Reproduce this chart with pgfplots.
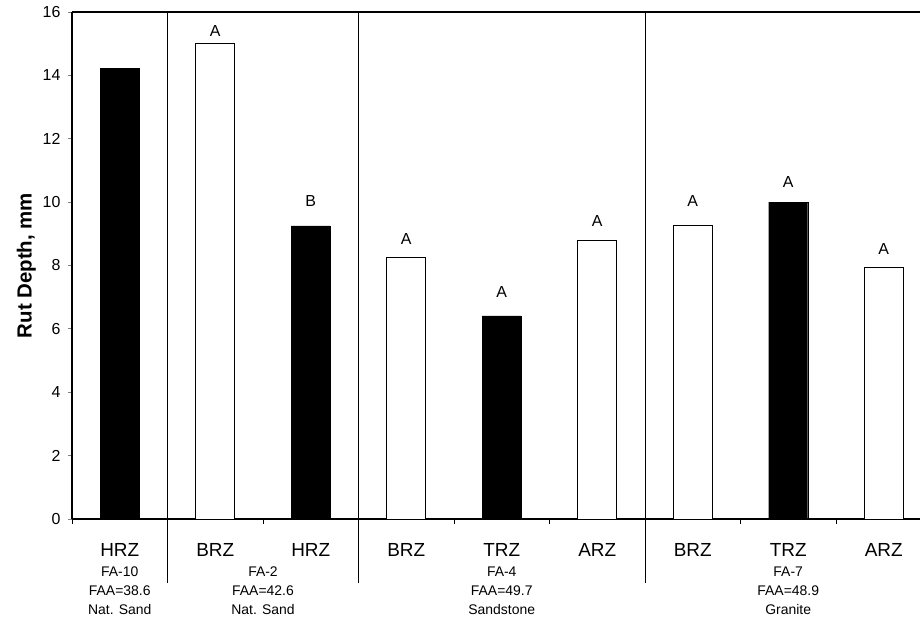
\documentclass[border=0pt]{standalone}
\usepackage{pgfplots}
\pgfplotsset{compat=1.18}
\usepackage{fontspec}
\setmainfont{Liberation Sans}
\begin{document}
\begin{tikzpicture}
\path[use as bounding box] (-72bp,-101bp) rectangle (848bp,519bp);
\begin{axis}[
  at={(0,0)}, anchor=south west,
  scale only axis, width=848bp, height=507bp,
  xmin=-0.5, xmax=8.38, ymin=0, ymax=16,
  axis lines*=left,
  axis line style={line width=1.5bp},
  clip=false,
  /pgf/number format/assume math mode=true,
  ytick={0,2,...,16},
  yticklabel style={font=\fontsize{16}{16}\selectfont, xshift=-4bp},
  tick align=outside,
  major tick length=4bp,
  xtick={0,...,8},
  xticklabels={HRZ,BRZ,HRZ,BRZ,TRZ,ARZ,BRZ,TRZ,ARZ},
  xticklabel style={font=\fontsize{19}{19}\selectfont, yshift=-17bp},
  x tick style={draw=none},
  minor xtick={-0.5,0.5,...,7.5},
  minor x tick style={draw=black, line width=0.8bp},
  minor tick length=5bp,
  y tick style={line width=0.8bp},
  ylabel={\textbf{Rut Depth, mm}},
  ylabel style={font=\fontsize{20.5}{20.5}\selectfont},
]
\addplot[ybar, bar width=39bp, bar shift=0pt, fill=black, draw=black]
  coordinates {(0,14.23) (2,9.25) (4,6.41) (7,10.0)};
\addplot[ybar, bar width=39bp, bar shift=0pt, fill=white, draw=black, line width=0.8bp]
  coordinates {(1,15.01) (3,8.24) (5,8.8) (6,9.28) (8,7.95)};
\draw[line width=2.5bp] (rel axis cs:0,1) -- (rel axis cs:1,1);
\draw[line width=0.8bp] (axis cs:0.5,16) -- ([yshift=-64bp]axis cs:0.5,0);
\draw[line width=0.8bp] (axis cs:2.5,16) -- ([yshift=-64bp]axis cs:2.5,0);
\draw[line width=0.8bp] (axis cs:5.5,16) -- ([yshift=-64bp]axis cs:5.5,0);
\tikzset{lab/.style={anchor=base, inner sep=0pt, font=\fontsize{16}{16}\selectfont}}
\node[lab] at ([yshift=7bp]axis cs:1,15.01) {A};
\node[lab] at ([yshift=19bp]axis cs:2,9.25) {B};
\node[lab] at ([yshift=13bp]axis cs:3,8.24) {A};
\node[lab] at ([yshift=18bp]axis cs:4,6.41) {A};
\node[lab] at ([yshift=14bp]axis cs:5,8.8) {A};
\node[lab] at ([yshift=18bp]axis cs:6,9.28) {A};
\node[lab] at ([yshift=15bp]axis cs:7,10.0) {A};
\node[lab] at ([yshift=13bp]axis cs:8,7.95) {A};
\tikzset{grp/.style={align=center, font=\fontsize{14}{19}\selectfont, anchor=north, inner sep=0pt}}
\node[grp] at ([yshift=-48bp]axis cs:0,0) {FA-10\\FAA=38.6\\Nat. Sand};
\node[grp] at ([yshift=-48bp]axis cs:1.5,0) {FA-2\\FAA=42.6\\Nat. Sand};
\node[grp] at ([yshift=-48bp]axis cs:4,0) {FA-4\\FAA=49.7\\Sandstone};
\node[grp] at ([yshift=-48bp]axis cs:7,0) {FA-7\\FAA=48.9\\Granite};
\end{axis}
\end{tikzpicture}
\end{document}
